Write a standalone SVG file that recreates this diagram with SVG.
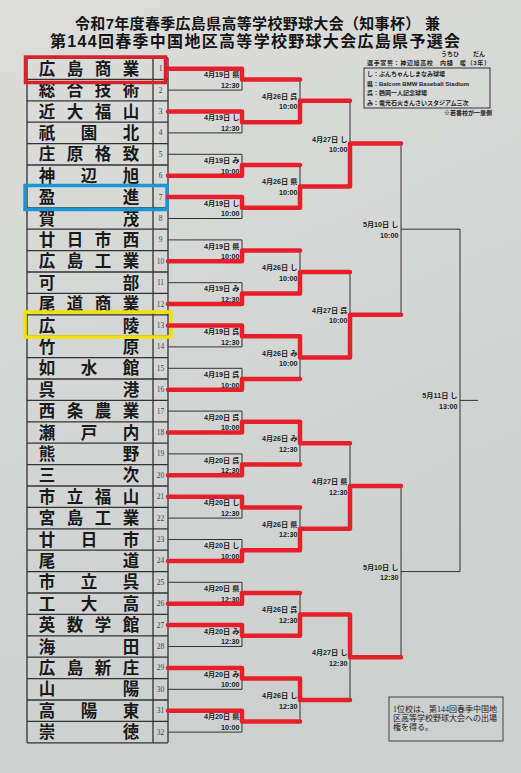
<svg xmlns="http://www.w3.org/2000/svg" width="521" height="773" viewBox="0 0 521 773">
<defs>
<linearGradient id="paper" x1="0" y1="0" x2="0.3" y2="1">
<stop offset="0" stop-color="#dcdddb"/>
<stop offset="1" stop-color="#ccd0ce"/>
</linearGradient>
</defs>
<style>
.ttl{font-family:"Liberation Sans","Noto Sans CJK JP",sans-serif;font-weight:700;fill:#151515}
.nm{font-family:"Liberation Sans","Noto Sans CJK JP",sans-serif;font-weight:700;font-size:16.5px;fill:#1a1a1a;text-anchor:middle}
.no{font-family:"Liberation Serif","Noto Sans CJK JP",serif;font-size:7.5px;fill:#444;text-anchor:middle}
.lb{font-family:"Liberation Sans","Noto Sans CJK JP",sans-serif;font-weight:700;font-size:7.2px;fill:#222;text-anchor:end}
.lg{font-family:"Liberation Sans","Noto Sans CJK JP",sans-serif;font-weight:700;font-size:6px;fill:#222}
.nt{font-family:"Liberation Serif","Noto Sans CJK JP",serif;font-size:8px;fill:#222}
.thin{fill:none;stroke:#333;stroke-width:1}
.tbl{fill:none;stroke:#333;stroke-width:1.3}
.red{fill:none;stroke:#e5202b;stroke-width:4.5;stroke-linecap:round;stroke-linejoin:round}
.hl{fill:none;stroke-width:3.5}
</style>
<rect width="521" height="773" fill="url(#paper)"/>

<g id="title">
<text class="ttl" x="75" y="28.5" font-size="15" textLength="365" lengthAdjust="spacing">令和7年度春季広島県高等学校野球大会（知事杯） 兼</text>
<text class="ttl" x="50" y="46.5" font-size="16" textLength="410" lengthAdjust="spacing">第144回春季中国地区高等学校野球大会広島県予選会</text>
</g>

<g id="legend">
<text class="lg" x="441" y="55.5" font-size="4">うちひ</text>
<text class="lg" x="473" y="55.5" font-size="4">だん</text>
<text class="lg" x="367" y="65" font-size="7" textLength="123" lengthAdjust="spacing">選手宣誓：神辺旭高校　内樋　暖（3年）</text>
<rect x="364" y="68" width="126" height="40" fill="none" stroke="#333" stroke-width="1"/>
<text class="lg" x="367" y="76">し：ぶんちゃんしまなみ球場</text>
<text class="lg" x="367" y="85.5">県：Balcom BMW Baseball Stadium</text>
<text class="lg" x="367" y="95">呉：鶴岡一人記念球場</text>
<text class="lg" x="367" y="104.5">み：電光石火きんさいスタジアム三次</text>
<text class="lg" x="492" y="115" text-anchor="end">※若番校が一塁側</text>
</g>

<g id="note">
<rect x="389" y="697" width="114" height="44" fill="none" stroke="#444" stroke-width="1"/>
<text class="nt" x="393" y="712">1位校は、第144回春季中国地</text>
<text class="nt" x="393" y="721">区高等学校野球大会への出場</text>
<text class="nt" x="393" y="730">権を得る。</text>
</g>

<g id="table">
<path class="tbl" d="M27,58V742.8M153,58V742.8M168,58V742.8"/>
<path class="tbl" d="M27,58H168M27,79.4H168M27,100.8H168M27,122.2H168M27,143.6H168M27,165H168M27,186.4H168M27,207.8H168M27,229.2H168M27,250.6H168M27,272H168M27,293.4H168M27,314.8H168M27,336.2H168M27,357.6H168M27,379H168M27,400.4H168M27,421.8H168M27,443.2H168M27,464.6H168M27,486H168M27,507.4H168M27,528.8H168M27,550.2H168M27,571.6H168M27,593H168M27,614.4H168M27,635.8H168M27,657.2H168M27,678.6H168M27,700H168M27,721.4H168M27,742.8H168"/>
</g>

<g id="teams">
<g id="team-1"><text class="nm" x="47 75 103 131" y="74.7">広島商業</text><text class="no" x="160.5" y="71.2">1</text></g>
<g id="team-2"><text class="nm" x="47 75 103 131" y="96.1">総合技術</text><text class="no" x="160.5" y="92.6">2</text></g>
<g id="team-3"><text class="nm" x="47 75 103 131" y="117.5">近大福山</text><text class="no" x="160.5" y="114">3</text></g>
<g id="team-4"><text class="nm" x="47 89 131" y="138.9">祇園北</text><text class="no" x="160.5" y="135.4">4</text></g>
<g id="team-5"><text class="nm" x="47 75 103 131" y="160.3">庄原格致</text><text class="no" x="160.5" y="156.8">5</text></g>
<g id="team-6"><text class="nm" x="47 89 131" y="181.7">神辺旭</text><text class="no" x="160.5" y="178.2">6</text></g>
<g id="team-7"><text class="nm" x="47 131" y="203.1">盈進</text><text class="no" x="160.5" y="199.6">7</text></g>
<g id="team-8"><text class="nm" x="47 131" y="224.5">賀茂</text><text class="no" x="160.5" y="221">8</text></g>
<g id="team-9"><text class="nm" x="47 75 103 131" y="245.9">廿日市西</text><text class="no" x="160.5" y="242.4">9</text></g>
<g id="team-10"><text class="nm" x="47 75 103 131" y="267.3">広島工業</text><text class="no" x="160.5" y="263.8">10</text></g>
<g id="team-11"><text class="nm" x="47 131" y="288.7">可部</text><text class="no" x="160.5" y="285.2">11</text></g>
<g id="team-12"><text class="nm" x="47 75 103 131" y="310.1">尾道商業</text><text class="no" x="160.5" y="306.6">12</text></g>
<g id="team-13"><text class="nm" x="47 131" y="331.5">広陵</text><text class="no" x="160.5" y="328">13</text></g>
<g id="team-14"><text class="nm" x="47 131" y="352.9">竹原</text><text class="no" x="160.5" y="349.4">14</text></g>
<g id="team-15"><text class="nm" x="47 89 131" y="374.3">如水館</text><text class="no" x="160.5" y="370.8">15</text></g>
<g id="team-16"><text class="nm" x="47 131" y="395.7">呉港</text><text class="no" x="160.5" y="392.2">16</text></g>
<g id="team-17"><text class="nm" x="47 75 103 131" y="417.1">西条農業</text><text class="no" x="160.5" y="413.6">17</text></g>
<g id="team-18"><text class="nm" x="47 89 131" y="438.5">瀬戸内</text><text class="no" x="160.5" y="435">18</text></g>
<g id="team-19"><text class="nm" x="47 131" y="459.9">熊野</text><text class="no" x="160.5" y="456.4">19</text></g>
<g id="team-20"><text class="nm" x="47 131" y="481.3">三次</text><text class="no" x="160.5" y="477.8">20</text></g>
<g id="team-21"><text class="nm" x="47 75 103 131" y="502.7">市立福山</text><text class="no" x="160.5" y="499.2">21</text></g>
<g id="team-22"><text class="nm" x="47 75 103 131" y="524.1">宮島工業</text><text class="no" x="160.5" y="520.6">22</text></g>
<g id="team-23"><text class="nm" x="47 89 131" y="545.5">廿日市</text><text class="no" x="160.5" y="542">23</text></g>
<g id="team-24"><text class="nm" x="47 131" y="566.9">尾道</text><text class="no" x="160.5" y="563.4">24</text></g>
<g id="team-25"><text class="nm" x="47 89 131" y="588.3">市立呉</text><text class="no" x="160.5" y="584.8">25</text></g>
<g id="team-26"><text class="nm" x="47 89 131" y="609.7">工大高</text><text class="no" x="160.5" y="606.2">26</text></g>
<g id="team-27"><text class="nm" x="47 75 103 131" y="631.1">英数学館</text><text class="no" x="160.5" y="627.6">27</text></g>
<g id="team-28"><text class="nm" x="47 131" y="652.5">海田</text><text class="no" x="160.5" y="649">28</text></g>
<g id="team-29"><text class="nm" x="47 75 103 131" y="673.9">広島新庄</text><text class="no" x="160.5" y="670.4">29</text></g>
<g id="team-30"><text class="nm" x="47 131" y="695.3">山陽</text><text class="no" x="160.5" y="691.8">30</text></g>
<g id="team-31"><text class="nm" x="47 89 131" y="716.7">高陽東</text><text class="no" x="160.5" y="713.2">31</text></g>
<g id="team-32"><text class="nm" x="47 131" y="738.1">崇徳</text><text class="no" x="160.5" y="734.6">32</text></g>
</g>

<g id="highlights">
<rect class="hl" x="25.5" y="57" width="140" height="25.5" stroke="#d8232a"/>
<rect class="hl" x="25" y="185.5" width="142" height="24" stroke="#1b96d4"/>
<rect class="hl" x="25" y="312" width="146" height="25" stroke="#f0e300"/>
</g>

<g id="labels">
<text class="lb" x="239.5" y="77.4">4月19日 県<tspan x="239.5" y="87.9">12:30</tspan></text>
<text class="lb" x="239.5" y="120.2">4月19日 し<tspan x="239.5" y="130.7">12:30</tspan></text>
<text class="lb" x="239.5" y="163">4月19日 み<tspan x="239.5" y="173.5">10:00</tspan></text>
<text class="lb" x="239.5" y="205.8">4月19日 し<tspan x="239.5" y="216.3">10:00</tspan></text>
<text class="lb" x="239.5" y="248.6">4月19日 県<tspan x="239.5" y="259.1">10:00</tspan></text>
<text class="lb" x="239.5" y="291.4">4月19日 み<tspan x="239.5" y="301.9">12:30</tspan></text>
<text class="lb" x="239.5" y="334.2">4月19日 呉<tspan x="239.5" y="344.7">12:30</tspan></text>
<text class="lb" x="239.5" y="377">4月19日 呉<tspan x="239.5" y="387.5">10:00</tspan></text>
<text class="lb" x="239.5" y="419.8">4月20日 呉<tspan x="239.5" y="430.3">10:00</tspan></text>
<text class="lb" x="239.5" y="462.6">4月20日 呉<tspan x="239.5" y="473.1">12:30</tspan></text>
<text class="lb" x="239.5" y="505.4">4月20日 し<tspan x="239.5" y="515.9">12:30</tspan></text>
<text class="lb" x="239.5" y="548.2">4月20日 し<tspan x="239.5" y="558.7">10:00</tspan></text>
<text class="lb" x="239.5" y="591">4月20日 県<tspan x="239.5" y="601.5">12:30</tspan></text>
<text class="lb" x="239.5" y="633.8">4月20日 み<tspan x="239.5" y="644.3">12:30</tspan></text>
<text class="lb" x="239.5" y="676.6">4月20日 み<tspan x="239.5" y="687.1">10:00</tspan></text>
<text class="lb" x="239.5" y="719.4">4月20日 県<tspan x="239.5" y="729.9">10:00</tspan></text>

<text class="lb" x="297.5" y="98.8">4月26日 呉<tspan x="297.5" y="109.3">10:00</tspan></text>
<text class="lb" x="297.5" y="184.4">4月26日 県<tspan x="297.5" y="194.9">10:00</tspan></text>
<text class="lb" x="297.5" y="270">4月26日 し<tspan x="297.5" y="280.5">10:00</tspan></text>
<text class="lb" x="297.5" y="355.6">4月26日 み<tspan x="297.5" y="366.1">10:00</tspan></text>
<text class="lb" x="297.5" y="441.2">4月26日 み<tspan x="297.5" y="451.7">12:30</tspan></text>
<text class="lb" x="297.5" y="526.8">4月26日 県<tspan x="297.5" y="537.3">12:30</tspan></text>
<text class="lb" x="297.5" y="612.4">4月26日 呉<tspan x="297.5" y="622.9">12:30</tspan></text>
<text class="lb" x="297.5" y="698">4月26日 し<tspan x="297.5" y="708.5">12:30</tspan></text>

<text class="lb" x="347.5" y="141.6">4月27日 し<tspan x="347.5" y="152.1">10:00</tspan></text>
<text class="lb" x="347.5" y="312.8">4月27日 呉<tspan x="347.5" y="323.3">10:00</tspan></text>
<text class="lb" x="347.5" y="484">4月27日 県<tspan x="347.5" y="494.5">12:30</tspan></text>
<text class="lb" x="347.5" y="655.2">4月27日 し<tspan x="347.5" y="665.7">12:30</tspan></text>

<text class="lb" x="398.5" y="227.2">5月10日 し<tspan x="398.5" y="237.7">10:00</tspan></text>
<text class="lb" x="398.5" y="569.6">5月10日 し<tspan x="398.5" y="580.1">12:30</tspan></text>

<text class="lb" x="457.5" y="398.4">5月11日 し<tspan x="457.5" y="408.9">13:00</tspan></text>
</g>

<g id="connectors">
<path class="thin" d="M168,68.7H242V90.1H168M168,111.5H242V132.9H168M168,154.3H242V175.7H168M168,197.1H242V218.5H168M168,239.9H242V261.3H168M168,282.7H242V304.1H168M168,325.5H242V346.9H168M168,368.3H242V389.7H168M168,411.1H242V432.5H168M168,453.9H242V475.3H168M168,496.7H242V518.1H168M168,539.5H242V560.9H168M168,582.3H242V603.7H168M168,625.1H242V646.5H168M168,667.9H242V689.3H168M168,710.7H242V732.1H168"/>
<path class="thin" d="M242,79.4H300M242,122.2H300M242,165H300M242,207.8H300M242,250.6H300M242,293.4H300M242,336.2H300M242,379H300M242,421.8H300M242,464.6H300M242,507.4H300M242,550.2H300M242,593H300M242,635.8H300M242,678.6H300M242,721.4H300"/>
<path class="thin" d="M300,79.4V122.2M300,165V207.8M300,250.6V293.4M300,336.2V379M300,421.8V464.6M300,507.4V550.2M300,593V635.8M300,678.6V721.4"/>
<path class="thin" d="M300,100.8H350M300,186.4H350M300,272H350M300,357.6H350M300,443.2H350M300,528.8H350M300,614.4H350M300,700H350"/>
<path class="thin" d="M350,100.8V186.4M350,272V357.6M350,443.2V528.8M350,614.4V700"/>
<path class="thin" d="M350,143.6H401M350,314.8H401M350,486H401M350,657.2H401"/>
<path class="thin" d="M401,143.6V314.8M401,486V657.2M401,229.2H460M401,571.6H460M460,229.2V571.6M460,400.4H478"/>

<path class="red" d="M168,68.7H242V79.4H300"/>
<path class="red" d="M168,111.5H242V122.2H300V100.8H350"/>
<path class="red" d="M168,175.7H242V165H300"/>
<path class="red" d="M168,197.1H242V207.8H300V186.4H350V143.6H401"/>
<path class="red" d="M168,261.3H242V250.6H300"/>
<path class="red" d="M168,304.1H242V293.4H300V272H350"/>
<path class="red" d="M168,325.5H242V336.2H300V357.6H350V314.8H401"/>
<path class="red" d="M168,389.7H242V379H300"/>
<path class="red" d="M168,432.5H242V421.8H300V443.2H350"/>
<path class="red" d="M168,475.3H242V464.6H300"/>
<path class="red" d="M168,496.7H242V507.4H300"/>
<path class="red" d="M168,560.9H242V550.2H300V528.8H350V486H401"/>
<path class="red" d="M168,603.7H242V593H300"/>
<path class="red" d="M168,625.1H242V635.8H300V614.4H350V657.2H401"/>
<path class="red" d="M168,667.9H242V678.6H300V700H350"/>
<path class="red" d="M168,710.7H242V721.4H300"/>
</g>
</svg>
